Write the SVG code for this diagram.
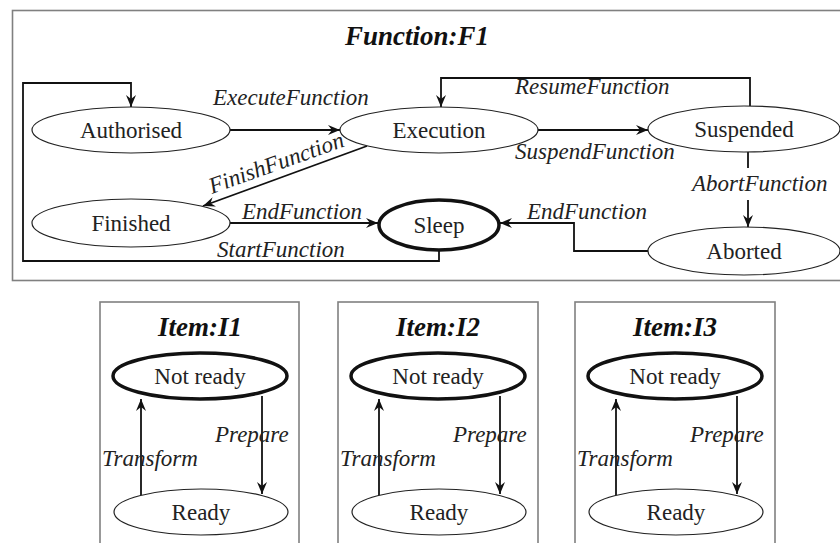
<svg xmlns="http://www.w3.org/2000/svg" width="840" height="543" viewBox="0 0 840 543">
  <style>
    .frame { fill: none; stroke: #808080; stroke-width: 1.6; }
    .state { fill: #fff; stroke: #222; stroke-width: 1.2; }
    .init { fill: #fff; stroke: #111; stroke-width: 3.5; }
    .edge { fill: none; stroke: #111; stroke-width: 1.8; }
    .arrow { marker-end: url(#arr); }
    text { font-family: 'Liberation Serif', 'Times New Roman', serif; fill: #222; }
    .title { font-size: 27px; font-weight: bold; font-style: italic; fill: #111; }
    .name { font-size: 23px; text-anchor: middle; }
    .lbl { font-size: 23px; font-style: italic; }
  </style>
  <defs>
    <marker id="arr" viewBox="0 0 12 10" refX="12" refY="5" markerWidth="12" markerHeight="10" orient="auto" markerUnits="userSpaceOnUse">
      <path d="M0,0 L12,5 L0,10 L4,5 z" fill="#111"/>
    </marker>
  </defs>

  <rect width="840" height="543" fill="#fff"/>

  <!-- Function F1 state machine -->
  <rect class="frame" x="12.5" y="10.5" width="835" height="270"/>
  <text class="title" x="417" y="45" text-anchor="middle">Function:F1</text>

  <!-- Item frames -->
  <rect class="frame" x="100" y="302" width="199" height="260"/>
  <rect class="frame" x="338" y="302" width="200" height="260"/>
  <rect class="frame" x="575" y="302" width="200" height="260"/>
  <text class="title" x="200" y="336" text-anchor="middle">Item:I1</text>
  <text class="title" x="438" y="336" text-anchor="middle">Item:I2</text>
  <text class="title" x="675" y="336" text-anchor="middle">Item:I3</text>

  <g id="connectors">
    <path class="edge arrow" d="M230,130 L340,130"/>
    <path class="edge arrow" d="M750,106 L750,78 L441,78 L441,107"/>
    <path class="edge arrow" d="M538,130 L648,130"/>
    <path class="edge arrow" d="M367,146 L203,206"/>
    <path class="edge arrow" d="M230,223 L378,223"/>
    <path class="edge arrow" d="M439,250 L439,261 L23,261 L23,83 L131,83 L131,107"/>
    <path class="edge" d="M748,152 L748,168"/>
    <path class="edge arrow" d="M748,200 L748,227"/>
    <path class="edge arrow" d="M648,251 L574,251 L574,223 L500,223"/>

    <path class="edge arrow" d="M141,495 L141,399"/>
    <path class="edge arrow" d="M262,396 L262,494"/>
    <path class="edge arrow" d="M379,495 L379,399"/>
    <path class="edge arrow" d="M500,396 L500,494"/>
    <path class="edge arrow" d="M616,495 L616,399"/>
    <path class="edge arrow" d="M737,396 L737,494"/>
  </g>

  <g id="edge-labels">
    <text class="lbl" x="213" y="105">ExecuteFunction</text>
    <text class="lbl" x="515" y="94">ResumeFunction</text>
    <text class="lbl" x="515" y="159">SuspendFunction</text>
    <text class="lbl" x="0" y="0" transform="translate(212,194) rotate(-19.7)">FinishFunction</text>
    <text class="lbl" x="242" y="219">EndFunction</text>
    <text class="lbl" x="217" y="257">StartFunction</text>
    <text class="lbl" x="692" y="191">AbortFunction</text>
    <text class="lbl" x="527" y="219">EndFunction</text>
    <text class="lbl" x="102" y="466">Transform</text>
    <text class="lbl" x="215" y="442">Prepare</text>
    <text class="lbl" x="340" y="466">Transform</text>
    <text class="lbl" x="453" y="442">Prepare</text>
    <text class="lbl" x="577" y="466">Transform</text>
    <text class="lbl" x="690" y="442">Prepare</text>
  </g>

  <g id="authorised"><ellipse class="state" cx="131" cy="130" rx="99" ry="23"/><text class="name" x="131" y="138">Authorised</text></g>
  <g id="execution"><ellipse class="state" cx="439" cy="130" rx="99" ry="23"/><text class="name" x="439" y="138">Execution</text></g>
  <g id="suspended"><ellipse class="state" cx="744" cy="129" rx="96" ry="23"/><text class="name" x="744" y="137">Suspended</text></g>
  <g id="finished"><ellipse class="state" cx="131" cy="223" rx="99" ry="24"/><text class="name" x="131" y="231">Finished</text></g>
  <g id="sleep"><ellipse class="init" cx="439" cy="225" rx="60" ry="25"/><text class="name" x="439" y="233">Sleep</text></g>
  <g id="aborted"><ellipse class="state" cx="744" cy="251" rx="96" ry="24"/><text class="name" x="744" y="259">Aborted</text></g>

  <g id="i1-notready"><ellipse class="init" cx="200" cy="376" rx="87" ry="23"/><text class="name" x="200" y="384">Not ready</text></g>
  <g id="i1-ready"><ellipse class="state" cx="201" cy="512" rx="87" ry="23"/><text class="name" x="201" y="520">Ready</text></g>
  <g id="i2-notready"><ellipse class="init" cx="438" cy="376" rx="87" ry="23"/><text class="name" x="438" y="384">Not ready</text></g>
  <g id="i2-ready"><ellipse class="state" cx="439" cy="512" rx="87" ry="23"/><text class="name" x="439" y="520">Ready</text></g>
  <g id="i3-notready"><ellipse class="init" cx="675" cy="376" rx="87" ry="23"/><text class="name" x="675" y="384">Not ready</text></g>
  <g id="i3-ready"><ellipse class="state" cx="676" cy="512" rx="87" ry="23"/><text class="name" x="676" y="520">Ready</text></g>
</svg>
